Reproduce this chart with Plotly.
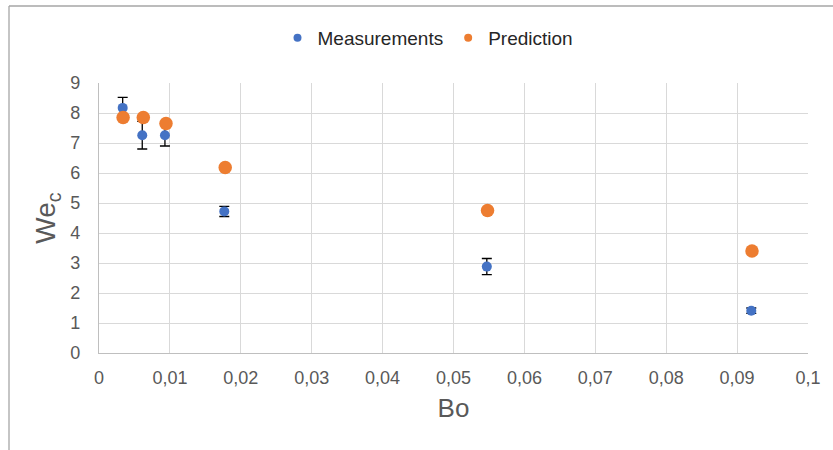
import plotly.graph_objects as go

meas_bo = [0.00334, 0.0061, 0.0093, 0.01767, 0.0547, 0.0920]
meas_we = [8.17, 7.26, 7.26, 4.72, 2.88, 1.41]
meas_err = [0.35, 0.46, 0.36, 0.17, 0.27, 0.09]

pred_bo = [0.0034, 0.00625, 0.00945, 0.0178, 0.0548, 0.0921]
pred_we = [7.85, 7.85, 7.65, 6.18, 4.75, 3.40]

BLUE = "#4472C4"
ORANGE = "#ED7D31"
TXT = "#595959"
GRID = "#D9D9D9"
FONT = "Liberation Sans Narrow, Liberation Sans, Arial, sans-serif"

fig = go.Figure()
fig.add_trace(go.Scatter(
    x=meas_bo, y=meas_we, mode="markers", showlegend=False,
    marker=dict(color=BLUE, size=10),
    error_y=dict(type="data", array=meas_err, visible=True, color="#000000", thickness=1.3, width=5),
))
fig.add_trace(go.Scatter(
    x=pred_bo, y=pred_we, mode="markers", showlegend=False,
    marker=dict(color=ORANGE, size=13.5),
))
# legend entries
fig.add_trace(go.Scatter(x=[None], y=[None], mode="markers", name="Measurements",
                         marker=dict(color=BLUE, size=8)))
fig.add_trace(go.Scatter(x=[None], y=[None], mode="markers", name="Prediction",
                         marker=dict(color=ORANGE, size=8)))

L, R, T, B = 99, 25, 83, 97
W, H = 833, 450
pw, ph = W - L - R, H - T - B

def px_x(p):
    return (p - L) / pw

def px_y(p):
    return (H - B - p) / ph

fig.update_layout(
    width=W, height=H,
    margin=dict(l=L, r=R, t=T, b=B, autoexpand=False),
    paper_bgcolor="white", plot_bgcolor="white",
    separators=", ",
    font=dict(family=FONT, color=TXT, size=18),
    legend=dict(orientation="h", x=px_x(428), y=px_y(38), xanchor="center", yanchor="middle",
                font=dict(size=19, color="#262626"), itemwidth=30, tracegroupgap=0),
    xaxis=dict(range=[0, 0.1], dtick=0.01, tick0=0, showgrid=True, gridcolor=GRID, gridwidth=1.3,
               zeroline=False, showline=True, linecolor="#BFBFBF", linewidth=1.3,
               ticks="", ticklabelstandoff=8, tickfont=dict(size=18, color=TXT),
               title=dict(text="Bo", font=dict(size=26, color=TXT), standoff=12),
               automargin=False, fixedrange=True),
    yaxis=dict(range=[0, 9], dtick=1, tick0=0, showgrid=True, gridcolor=GRID, gridwidth=1.3,
               zeroline=False, showline=True, linecolor="#BFBFBF", linewidth=1.3,
               ticks="", ticklabelstandoff=14, tickfont=dict(size=18, color=TXT),
               title=dict(text="We<sub>c</sub>", font=dict(size=28, color=TXT), standoff=6),
               automargin=False, fixedrange=True),
    shapes=[
        dict(type="line", xref="paper", yref="paper", x0=px_x(9), x1=px_x(840), y0=px_y(6), y1=px_y(6),
             line=dict(color="#A6A6A6", width=1.3)),
        dict(type="line", xref="paper", yref="paper", x0=px_x(9), x1=px_x(9), y0=px_y(6), y1=px_y(460),
             line=dict(color="#A6A6A6", width=1.3)),
    ],
)

fig.write_html("out.html")
